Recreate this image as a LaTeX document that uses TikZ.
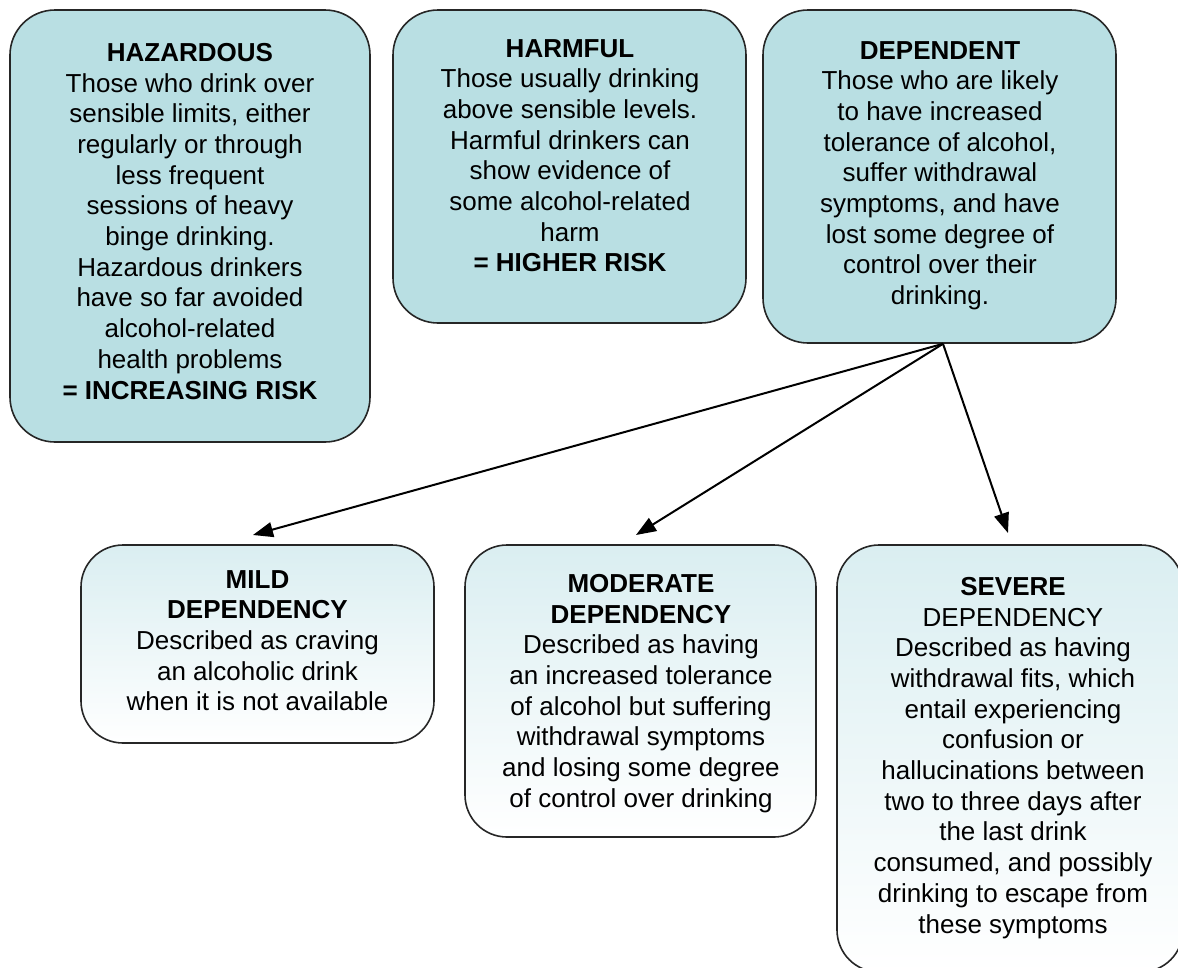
\documentclass[tikz,border=0pt]{standalone}
\usepackage{fontspec}
\setmainfont{Liberation Sans}
\usetikzlibrary{arrows.meta}
\definecolor{topfill}{RGB}{185,223,227}
\definecolor{lightfill}{RGB}{218,238,241}
\tikzset{
  topbox/.style={draw=black!85, line width=1.6pt, rounded corners=45pt, fill=topfill, inner sep=0pt},
  lowbox/.style={draw=black!85, line width=1.6pt, rounded corners=42pt, top color=lightfill, bottom color=white, inner sep=0pt},
  boxtext/.style={align=center, inner sep=0pt, anchor=north, font=\fontsize{26pt}{30.7pt}\selectfont},
  link/.style={line width=2pt, -{Triangle[length=20pt,width=15pt]}}
}
\begin{document}
\begin{tikzpicture}[x=1pt,y=-1pt]
\useasboundingbox (0,0) rectangle (1178,967);
\clip (0,0) rectangle (1178,967);
% top row boxes
\node[topbox, minimum width=360pt, minimum height=432pt] (haz) at (190,226) {};
\node[topbox, minimum width=353pt, minimum height=313pt] (harm) at (569.5,166.5) {};
\node[topbox, minimum width=353pt, minimum height=333pt] (dep) at (939.5,176.5) {};
% bottom row boxes
\node[lowbox, minimum width=353pt, minimum height=198pt] (mild) at (257.5,644) {};
\node[lowbox, minimum width=351pt, minimum height=292pt] (mod) at (640.5,691) {};
\node[lowbox, minimum width=346pt, minimum height=427pt] (sev) at (1010,758.5) {};
% texts
\node[boxtext] (hazT) at (190,43) {\textbf{HAZARDOUS}\\Those who drink over\\sensible limits, either\\regularly or through\\less frequent\\sessions of heavy\\binge drinking.\\Hazardous drinkers\\have so far avoided\\alcohol-related\\health problems\\\textbf{= INCREASING RISK}};
\node[boxtext] (harmT) at (570,39) {\textbf{HARMFUL}\\Those usually drinking\\above sensible levels.\\Harmful drinkers can\\show evidence of\\some alcohol-related\\harm\\\textbf{= HIGHER RISK}};
\node[boxtext] (depT) at (940,41) {\textbf{DEPENDENT}\\Those who are likely\\to have increased\\tolerance of alcohol,\\suffer withdrawal\\symptoms, and have\\lost some degree of\\control over their\\drinking.};
\node[boxtext] (mildT) at (257.5,570) {\textbf{MILD}\\\textbf{DEPENDENCY}\\Described as craving\\an alcoholic drink\\when it is not available};
\node[boxtext] (modT) at (641,574) {\textbf{MODERATE}\\\textbf{DEPENDENCY}\\Described as having\\an increased tolerance\\of alcohol but suffering\\withdrawal symptoms\\and losing some degree\\of control over drinking};
\node[boxtext] (sevT) at (1013,577) {\textbf{SEVERE}\\DEPENDENCY\\Described as having\\withdrawal fits, which\\entail experiencing\\confusion or\\hallucinations between\\two to three days after\\the last drink\\consumed, and possibly\\drinking to escape from\\these symptoms};
% connectors
\coordinate (fork) at ([xshift=3.5pt]dep.south);
\coordinate (tipMild) at (253,535);
\coordinate (tipMod) at (636,535);
\coordinate (tipSev) at (1008,533);
\draw[link] (fork) -- (tipMild);
\draw[link] (fork) -- (tipMod);
\draw[link] (fork) -- (tipSev);
\end{tikzpicture}
\end{document}
